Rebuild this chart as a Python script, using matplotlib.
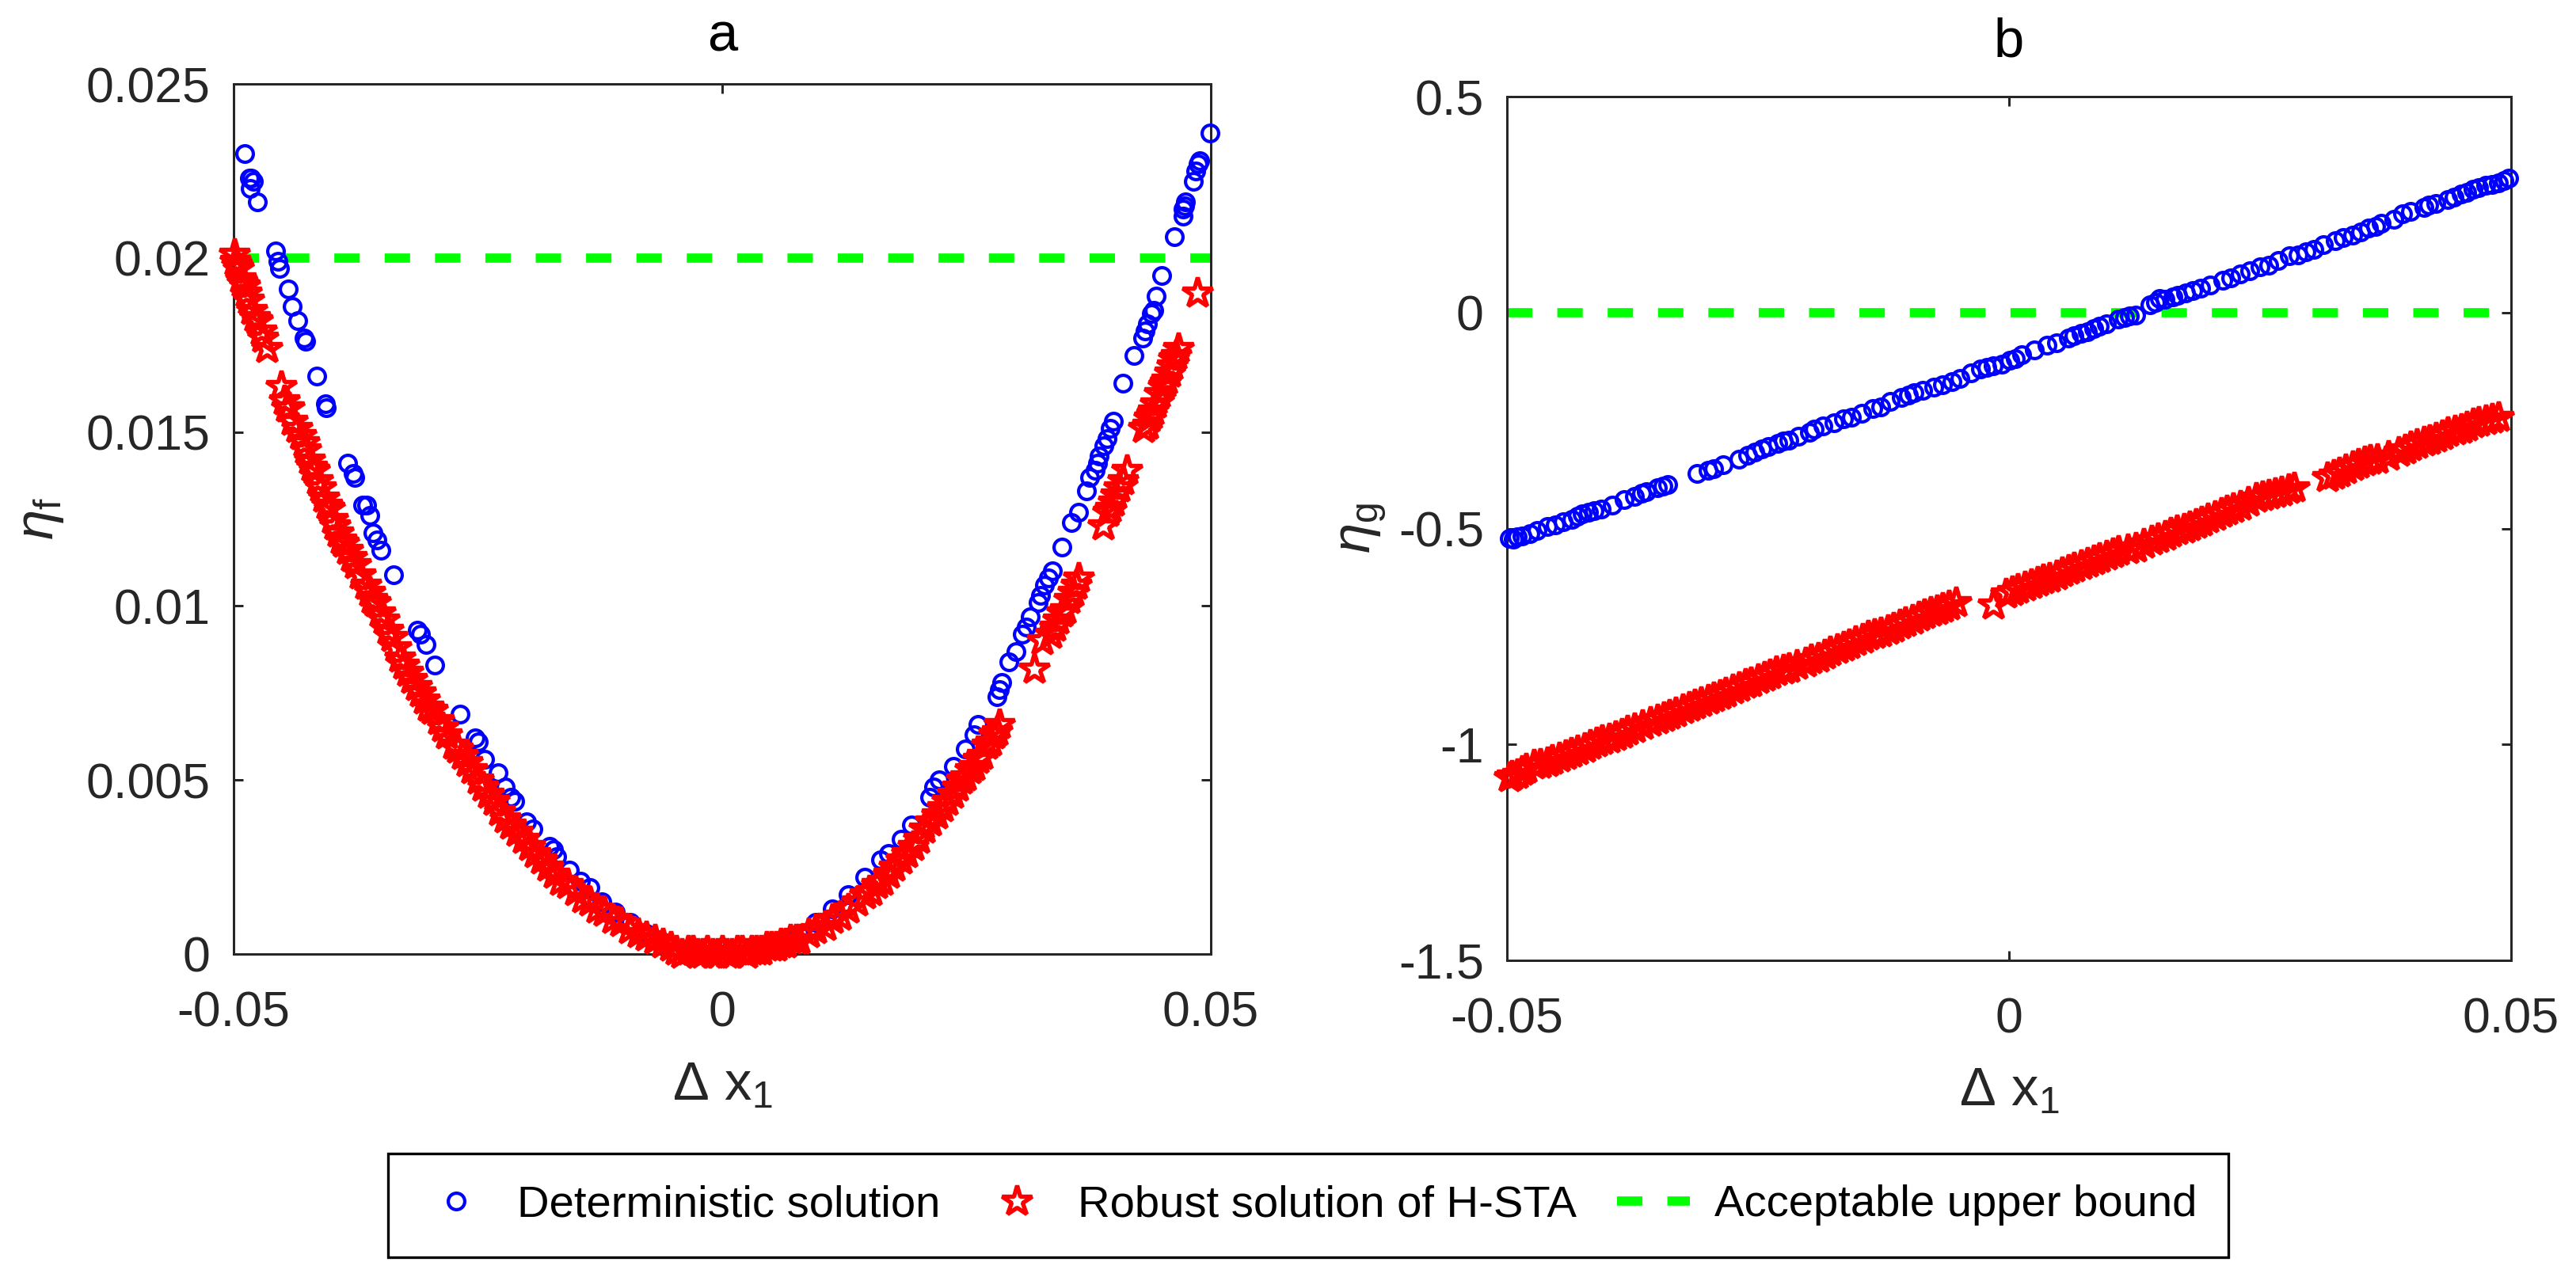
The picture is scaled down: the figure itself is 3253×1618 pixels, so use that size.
import numpy as np
import matplotlib.pyplot as plt

plt.rcParams['font.family'] = ['Liberation Sans', 'DejaVu Sans']
plt.rcParams['mathtext.fontset'] = 'custom'
plt.rcParams['mathtext.rm'] = 'Liberation Sans'
plt.rcParams['mathtext.it'] = 'Liberation Sans:italic'
plt.rcParams['mathtext.bf'] = 'Liberation Sans:bold'

# ---- panel a : eta_f ----
det_a_x = [-0.0489, -0.0484, -0.0482, -0.0480, -0.0483, -0.0476, -0.0457, -0.0455, -0.0453,
           -0.0444, -0.0440, -0.0434, -0.0428, -0.0426, -0.0415, -0.0406, -0.0405, -0.0383,
           -0.0378, -0.0376, -0.0368, -0.0364, -0.0361, -0.0357, -0.0353, -0.0349, -0.0336,
           -0.0312, -0.0309, -0.0303, -0.0294, -0.0268, -0.0253, -0.0250, -0.0243, -0.0229,
           -0.0222, -0.0216, -0.0212, -0.0200, -0.0194, -0.0177, -0.0173, -0.0169, -0.0156,
           -0.0145, -0.0135, -0.0123, -0.0109, -0.0094, -0.0078, -0.0057, -0.0036, -0.0028,
           0.0499, 0.0489, 0.0487, 0.0485, 0.0482, 0.0474, 0.0473, 0.0472, 0.0472, 0.0463,
           0.0450, 0.0444, 0.0442, 0.0439, 0.0435, 0.0433, 0.0430, 0.0421, 0.0410, 0.0400,
           0.0397, 0.0394, 0.0391, 0.0386, 0.0384, 0.0382, 0.0376, 0.0373, 0.0365, 0.0357,
           0.0348, 0.0338, 0.0334, 0.0330, 0.0326, 0.0323, 0.0315, 0.0311, 0.0307, 0.0301,
           0.0293, 0.0286, 0.0284, 0.0281, 0.0262, 0.0258, 0.0249, 0.0237, 0.0222, 0.0216,
           0.0212, 0.0194, 0.0183, 0.0170, 0.0162, 0.0146, 0.0129, 0.0113, 0.0096, 0.0079,
           0.0059, 0.0038, 0.0014]
det_a_y = [0.0230, 0.0223, 0.0223, 0.0222, 0.0220, 0.0216, 0.0202, 0.0199, 0.0197,
           0.0191, 0.0186, 0.0182, 0.0177, 0.0176, 0.0166, 0.0158, 0.0157, 0.0141,
           0.0138, 0.0137, 0.0129, 0.0129, 0.0126, 0.0121, 0.0119, 0.0116, 0.0109,
           0.0093, 0.0092, 0.0089, 0.0083, 0.0069, 0.0062, 0.0061, 0.0056, 0.0052,
           0.0048, 0.0045, 0.0044, 0.0038, 0.0036, 0.0031, 0.0030, 0.0028, 0.0024,
           0.0021, 0.0019, 0.0015, 0.0012, 0.0009, 0.0006, 0.0003, 0.0001, 0.0000,
           0.0236, 0.0228, 0.0227, 0.0225, 0.0222, 0.0216, 0.0215, 0.0214, 0.0212, 0.0206,
           0.0195, 0.0189, 0.0185, 0.0184, 0.0181, 0.0179, 0.0177, 0.0172, 0.0164, 0.0153,
           0.0151, 0.0148, 0.0146, 0.0143, 0.0141, 0.0139, 0.0137, 0.0133, 0.0127, 0.0124,
           0.0117, 0.0110, 0.0108, 0.0106, 0.0103, 0.0101, 0.0097, 0.0094, 0.0092, 0.0087,
           0.0084, 0.0078, 0.0076, 0.0074, 0.0066, 0.0063, 0.0059, 0.0054, 0.0050, 0.0048,
           0.0045, 0.0037, 0.0033, 0.0029, 0.0027, 0.0022, 0.0017, 0.0013, 0.0009, 0.0006,
           0.0003, 0.0001, 0.0000]

rob_a_x = [-0.0499, -0.0497, -0.0495, -0.0493, -0.0489, -0.0485, -0.0481, -0.0476, -0.0472,
           -0.0466, -0.0451, -0.0448, -0.0443, -0.0440, -0.0435, -0.0431, -0.0426, -0.0422,
           -0.0417, -0.0411, -0.0408, -0.0404, -0.0399, -0.0393, -0.0387, -0.0379, -0.0370,
           -0.0361, -0.0355, -0.0346, -0.0338, -0.0330, -0.0322, -0.0313, -0.0305, -0.0297,
           -0.0290, -0.0282, -0.0275, -0.0271, -0.0261, -0.0250, -0.0239, -0.0228, -0.0216,
           -0.0203, -0.0191, -0.0178, -0.0165, -0.0150, -0.0135, -0.0121, -0.0104, -0.0086,
           -0.0069, -0.0053, -0.0041, -0.0030, -0.0020, -0.0010, 0.0000, 0.0010, 0.0020,
           0.0030, 0.0040, 0.0050, 0.0060, 0.0070,
           0.0486, 0.0467, 0.0464, 0.0460, 0.0455, 0.0451, 0.0443, 0.0439, 0.0435, 0.0431,
           0.0414, 0.0406, 0.0400, 0.0395, 0.0390, 0.0365, 0.0359, 0.0351, 0.0344, 0.0336,
           0.0327, 0.0319, 0.0284, 0.0278, 0.0271, 0.0266, 0.0258, 0.0249, 0.0241, 0.0230,
           0.0220, 0.0207, 0.0195, 0.0183, 0.0170, 0.0158, 0.0146, 0.0129, 0.0113, 0.0096,
           0.0079,
           -0.0498, -0.0491, -0.0487, -0.0478, -0.0470, -0.0446, -0.0428, -0.0420, -0.0414,
           -0.0402, -0.0396, -0.0390, -0.0383, -0.0375, -0.0365, -0.0358, -0.0350, -0.0342,
           -0.0334, -0.0326, -0.0318, -0.0309, -0.0301, -0.0286, -0.0266, -0.0256, -0.0245,
           -0.0233, -0.0222, -0.0210, -0.0197, -0.0185, -0.0172, -0.0158, -0.0143, -0.0128,
           -0.0112, -0.0095, -0.0078, -0.0061, -0.0047, -0.0035, -0.0025, -0.0015, -0.0005,
           0.0005, 0.0015, 0.0025, 0.0035, 0.0045, 0.0055, 0.0065, 0.0075, 0.0088, 0.0105,
           0.0121, 0.0138, 0.0152, 0.0164, 0.0176, 0.0189, 0.0201, 0.0213, 0.0225, 0.0236,
           0.0245, 0.0254, 0.0262, 0.0275, 0.0281, 0.0340, 0.0348, 0.0355, 0.0362, 0.0397,
           0.0403, 0.0410, 0.0437, 0.0441, 0.0447, 0.0453, 0.0458, 0.0462]
rob_a_y = [0.0201, 0.0198, 0.0197, 0.0194, 0.0192, 0.0188, 0.0185, 0.0182, 0.0179,
           0.0174, 0.0163, 0.0159, 0.0157, 0.0153, 0.0151, 0.0149, 0.0145, 0.0142,
           0.0139, 0.0134, 0.0131, 0.0129, 0.0125, 0.0121, 0.0118, 0.0114, 0.0109,
           0.0104, 0.0101, 0.0096, 0.0091, 0.0085, 0.0081, 0.0077, 0.0073, 0.0070,
           0.0067, 0.0063, 0.0060, 0.0059, 0.0055, 0.0050, 0.0046, 0.0041, 0.0037,
           0.0033, 0.0029, 0.0025, 0.0021, 0.0018, 0.0015, 0.0012, 0.0009, 0.0006,
           0.0004, 0.0002, 0.0000, 0.0001, 0.0000, 0.0000, 0.0001, 0.0000, 0.0001,
           0.0001, 0.0001, 0.0002, 0.0003, 0.0004,
           0.0190, 0.0174, 0.0172, 0.0169, 0.0165, 0.0163, 0.0158, 0.0155, 0.0152, 0.0151,
           0.0139, 0.0134, 0.0130, 0.0127, 0.0123, 0.0108, 0.0104, 0.0099, 0.0096, 0.0092,
           0.0090, 0.0082, 0.0066, 0.0063, 0.0060, 0.0057, 0.0054, 0.0051, 0.0048, 0.0044,
           0.0040, 0.0036, 0.0031, 0.0027, 0.0023, 0.0020, 0.0017, 0.0013, 0.0010, 0.0007,
           0.0004,
           0.0199, 0.0193, 0.0190, 0.0183, 0.0177, 0.0157, 0.0147, 0.0140, 0.0136,
           0.0128, 0.0123, 0.0119, 0.0116, 0.0112, 0.0106, 0.0102, 0.0098, 0.0093,
           0.0088, 0.0083, 0.0079, 0.0075, 0.0071, 0.0065, 0.0057, 0.0053, 0.0048,
           0.0044, 0.0039, 0.0035, 0.0031, 0.0027, 0.0023, 0.0020, 0.0016, 0.0013,
           0.0010, 0.0007, 0.0005, 0.0003, 0.0001, 0.0001, 0.0000, 0.0001, 0.0000,
           0.0000, 0.0001, 0.0000, 0.0001, 0.0002, 0.0002, 0.0003, 0.0004, 0.0006, 0.0008,
           0.0011, 0.0015, 0.0018, 0.0021, 0.0025, 0.0029, 0.0033, 0.0038, 0.0042, 0.0046,
           0.0050, 0.0053, 0.0056, 0.0061, 0.0064, 0.0094, 0.0098, 0.0102, 0.0106, 0.0128,
           0.0132, 0.0136, 0.0154, 0.0156, 0.0161, 0.0164, 0.0167, 0.0171]
bound_a = 0.02

# ---- panel b : eta_g ----
det_b_x = [-0.0494, -0.0485, -0.0477, -0.0460, -0.0452, -0.0444, -0.0435, -0.0430, -0.0419,
           -0.0406, -0.0383, -0.0373, -0.0361, -0.0350, -0.0340, -0.0311, -0.0294, -0.0269,
           -0.0253, -0.0240, -0.0230, -0.0219, -0.0199, -0.0194, -0.0174, -0.0157, -0.0147,
           -0.0136, -0.0128, -0.0107, -0.0095, -0.0086, -0.0066, -0.0057, -0.0049, -0.0028,
           -0.0016, -0.0007, 0.0001, 0.0013, 0.0038, 0.0047, 0.0059, 0.0072, 0.0084, 0.0097,
           0.0109, 0.0126, 0.0146, 0.0155, 0.0163, 0.0176, 0.0191, 0.0213, 0.0221, 0.0230,
           0.0250, 0.0259, 0.0279, 0.0288, 0.0304, 0.0313, 0.0325, 0.0342, 0.0358, 0.0371,
           0.0383, 0.0392, 0.0413, 0.0425, 0.0437, 0.0450, 0.0462, 0.0475, 0.0487, 0.0498,
           -0.0498, -0.0490, -0.0470, -0.0425, -0.0413, -0.0395, -0.0366, -0.0345, -0.0300,
           -0.0285, -0.0260, -0.0246, -0.0225, -0.0210, -0.0185, -0.0165, -0.0118, -0.0100,
           -0.0075, -0.0038, -0.0022, 0.0006, 0.0025, 0.0065, 0.0078, 0.0090, 0.0115,
           0.0120, 0.0140, 0.0150, 0.0168, 0.0183, 0.0200, 0.0240, 0.0268, 0.0296, 0.0333,
           0.0350, 0.0365, 0.0400, 0.0418, 0.0443, 0.0456, 0.0468, 0.0481, 0.0493]
det_b_y = [-0.524, -0.517, -0.512, -0.496, -0.491, -0.484, -0.479, -0.471, -0.463,
           -0.455, -0.434, -0.425, -0.414, -0.406, -0.399, -0.373, -0.362, -0.340,
           -0.324, -0.311, -0.303, -0.295, -0.278, -0.270, -0.255, -0.242, -0.234,
           -0.222, -0.218, -0.196, -0.186, -0.180, -0.168, -0.160, -0.152, -0.131,
           -0.123, -0.119, -0.111, -0.098, -0.075, -0.070, -0.059, -0.049, -0.037, -0.026,
           -0.016, -0.006, 0.023, 0.030, 0.036, 0.046, 0.056, 0.074, 0.080, 0.089,
           0.105, 0.110, 0.131, 0.134, 0.147, 0.157, 0.167, 0.180, 0.195, 0.207,
           0.216, 0.228, 0.244, 0.252, 0.262, 0.274, 0.285, 0.295, 0.301, 0.311,
           -0.523, -0.520, -0.505, -0.466, -0.459, -0.446, -0.418, -0.402, -0.366,
           -0.352, -0.330, -0.316, -0.298, -0.287, -0.262, -0.247, -0.205, -0.191,
           -0.172, -0.140, -0.127, -0.107, -0.087, -0.054, -0.044, -0.032, -0.012,
           -0.008, 0.018, 0.033, 0.040, 0.050, 0.064, 0.097, 0.121, 0.140, 0.173,
           0.187, 0.200, 0.234, 0.248, 0.268, 0.279, 0.290, 0.297, 0.306]

rob_b_x = [-0.0498, -0.0490, -0.0481, -0.0473, -0.0460, -0.0448, -0.0436, -0.0423, -0.0411,
           -0.0398, -0.0386, -0.0373, -0.0357, -0.0344, -0.0332, -0.0319, -0.0307, -0.0294,
           -0.0282, -0.0269, -0.0257, -0.0244, -0.0232, -0.0219, -0.0203, -0.0190, -0.0178,
           -0.0165, -0.0153, -0.0140, -0.0128, -0.0115, -0.0103, -0.0090, -0.0078, -0.0066,
           -0.0053, -0.0016, -0.0003, 0.0009, 0.0022, 0.0034, 0.0047, 0.0059, 0.0072, 0.0084,
           0.0097, 0.0109, 0.0126, 0.0142, 0.0155, 0.0167, 0.0180, 0.0192, 0.0205, 0.0217,
           0.0230, 0.0246, 0.0259, 0.0271, 0.0284, 0.0317, 0.0329, 0.0342, 0.0354, 0.0367,
           0.0388, 0.0400, 0.0413, 0.0425, 0.0437, 0.0450, 0.0462, 0.0475, 0.0487,
           -0.0495, -0.0485, -0.0467, -0.0455, -0.0442, -0.0430, -0.0417, -0.0405, -0.0392,
           -0.0380, -0.0365, -0.0350, -0.0338, -0.0325, -0.0313, -0.0300, -0.0288, -0.0275,
           -0.0263, -0.0250, -0.0238, -0.0225, -0.0211, -0.0197, -0.0184, -0.0171, -0.0159,
           -0.0146, -0.0134, -0.0121, -0.0109, -0.0096, -0.0084, -0.0072, -0.0060, 0.0003,
           0.0016, 0.0028, 0.0040, 0.0053, 0.0065, 0.0078, 0.0090, 0.0103, 0.0118, 0.0134,
           0.0148, 0.0161, 0.0174, 0.0186, 0.0198, 0.0211, 0.0223, 0.0238, 0.0252, 0.0265,
           0.0278, 0.0323, 0.0335, 0.0348, 0.0360, 0.0378, 0.0394, 0.0406, 0.0419, 0.0431,
           0.0444, 0.0456, 0.0468, 0.0481]
rob_b_y = [-1.077, -1.069, -1.057, -1.047, -1.041, -1.031, -1.020, -1.008, -0.995,
           -0.987, -0.975, -0.962, -0.949, -0.938, -0.926, -0.913, -0.902, -0.892,
           -0.880, -0.867, -0.856, -0.844, -0.831, -0.823, -0.810, -0.799, -0.785,
           -0.774, -0.761, -0.749, -0.741, -0.730, -0.717, -0.704, -0.694, -0.684,
           -0.671, -0.676, -0.651, -0.640, -0.630, -0.619, -0.609, -0.596, -0.586, -0.574,
           -0.563, -0.553, -0.545, -0.528, -0.517, -0.504, -0.496, -0.484, -0.471, -0.458,
           -0.448, -0.430, -0.422, -0.414, -0.406, -0.381, -0.370, -0.357, -0.345, -0.340,
           -0.324, -0.311, -0.299, -0.291, -0.278, -0.270, -0.258, -0.249, -0.242,
           -1.073, -1.062, -1.045, -1.036, -1.026, -1.014, -1.002, -0.991, -0.981,
           -0.968, -0.956, -0.943, -0.932, -0.919, -0.907, -0.897, -0.886, -0.873,
           -0.861, -0.850, -0.838, -0.827, -0.816, -0.804, -0.792, -0.779, -0.768,
           -0.755, -0.745, -0.735, -0.723, -0.711, -0.699, -0.689, -0.678, -0.645,
           -0.635, -0.624, -0.614, -0.602, -0.591, -0.580, -0.568, -0.558, -0.549, -0.536,
           -0.523, -0.510, -0.500, -0.490, -0.478, -0.464, -0.453, -0.439, -0.426, -0.418,
           -0.410, -0.376, -0.363, -0.351, -0.342, -0.332, -0.318, -0.305, -0.295, -0.285,
           -0.274, -0.264, -0.254, -0.246]
bound_b = 0.0

labels = ['Deterministic solution', 'Robust solution of H-STA', 'Acceptable upper bound']

W, H, DPI = 3253, 1618, 300
fig = plt.figure(figsize=(W / DPI, H / DPI), dpi=DPI)
ax_a = fig.add_axes([295 / W, 1 - 1205 / H, 1234 / W, 1099 / H])
ax_b = fig.add_axes([1903 / W, 1 - 1213 / H, 1268 / W, 1091 / H])

axcol = '#262626'


def draw(ax, dx, dy, rx, ry, bound):
    ax.plot([-0.05, 0.05], [bound, bound], color='#00ff00', lw=2.8,
            ls=(0, (2.75, 2.7)), zorder=2, label=labels[2])
    ax.plot(dx, dy, 'o', ls='none', mec='#0000ff', mfc='none', ms=5, mew=1.0,
            clip_on=False, zorder=3, label=labels[0])
    ax.plot(rx, ry, '*', ls='none', mec='#ff0000', mfc='none', ms=9.5, mew=1.3,
            clip_on=False, zorder=4, label=labels[1])
    ax.set_xlim(-0.05, 0.05)
    ax.set_xticks([-0.05, 0, 0.05], ['-0.05', '0', '0.05'])
    ax.tick_params(direction='in', top=True, right=True, length=2.9, width=0.72,
                   colors=axcol, labelsize=15)
    ax.tick_params(axis='x', pad=11)
    ax.tick_params(axis='y', pad=7)
    for s in ax.spines.values():
        s.set_linewidth(0.72)
        s.set_color(axcol)


draw(ax_a, det_a_x, det_a_y, rob_a_x, rob_a_y, bound_a)
ax_a.set_ylim(0, 0.025)
ax_a.set_yticks([0, 0.005, 0.01, 0.015, 0.02, 0.025],
                ['0', '0.005', '0.01', '0.015', '0.02', '0.025'])
ax_a.set_title('a', fontsize=16.5, pad=10)
ax_a.set_xlabel(r'$\Delta\ \mathrm{x}_{1}$', fontsize=16.5, color=axcol)
ax_a.set_ylabel(r'$\eta_{\mathrm{f}}$', fontsize=16.5, color=axcol)
ax_a.xaxis.set_label_coords(0.5, -0.122)
ax_a.yaxis.set_label_coords(-0.172, 0.5)

draw(ax_b, det_b_x, det_b_y, rob_b_x, rob_b_y, bound_b)
ax_b.set_ylim(-1.5, 0.5)
ax_b.set_yticks([-1.5, -1, -0.5, 0, 0.5], ['-1.5', '-1', '-0.5', '0', '0.5'])
ax_b.set_title('b', fontsize=16.5, pad=12)
ax_b.set_xlabel(r'$\Delta\ \mathrm{x}_{1}$', fontsize=16.5, color=axcol)
ax_b.set_ylabel(r'$\eta_{\mathrm{g}}$', fontsize=16.5, color=axcol)
ax_b.xaxis.set_label_coords(0.5, -0.122)
ax_b.yaxis.set_label_coords(-0.118, 0.5)

h, l = ax_a.get_legend_handles_labels()
order = [1, 2, 0]
leg = fig.legend([h[i] for i in order], [l[i] for i in order], loc='center',
                 bbox_to_anchor=(1652 / W, 1 - 1522.5 / H), ncol=3, fontsize=13.5,
                 frameon=True, fancybox=False, edgecolor='k', framealpha=1,
                 borderpad=0.7, handlelength=1.64, handletextpad=0.55,
                 columnspacing=0.9, numpoints=1)
leg.get_frame().set_linewidth(0.8)

fig.savefig('out.png', dpi=DPI)
